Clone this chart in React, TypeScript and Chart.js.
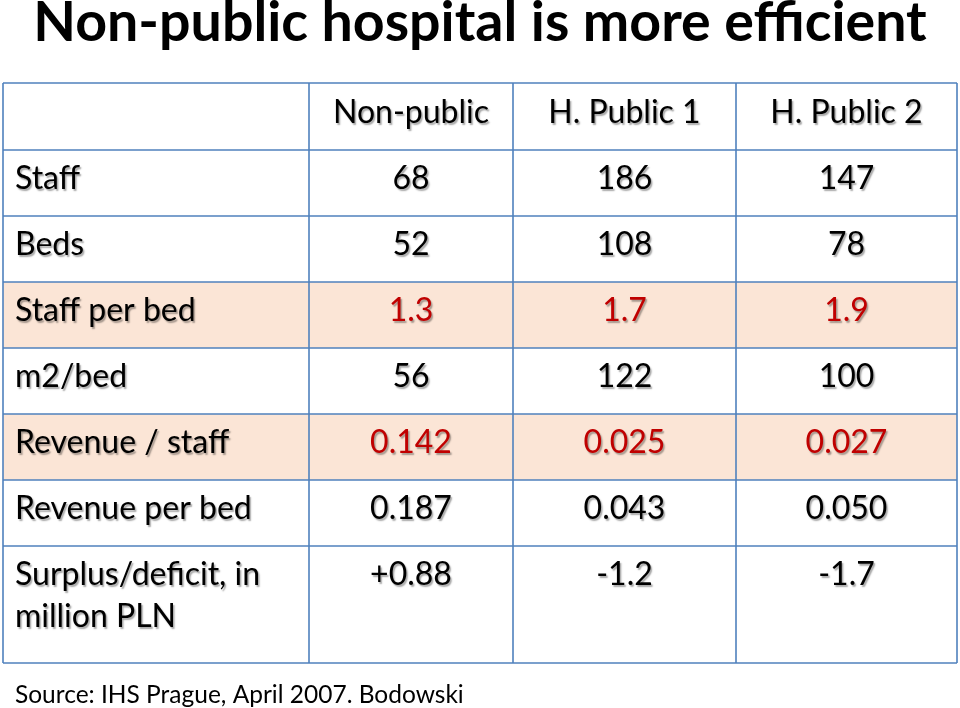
import React, { useEffect, useRef } from "react";
import { Chart, registerables } from "chart.js";

Chart.register(...registerables);

// ---- data ----
const TITLE = "Non-public hospital is more efficient";
const SOURCE = "Source: IHS Prague, April 2007. Bodowski";
const columnHeaders = ["Non-public", "H. Public 1", "H. Public 2"];
const rowLabels: string[][] = [
  ["Staff"],
  ["Beds"],
  ["Staff per bed"],
  ["m2/bed"],
  ["Revenue / staff"],
  ["Revenue per bed"],
  ["Surplus/deficit, in", "million PLN"],
];
const nonPublic = ["68", "52", "1.3", "56", "0.142", "0.187", "+0.88"];
const hPublic1 = ["186", "108", "1.7", "122", "0.025", "0.043", "-1.2"];
const hPublic2 = ["147", "78", "1.9", "100", "0.027", "0.050", "-1.7"];
const highlightedRows = ["Staff per bed", "Revenue / staff"];

// ---- layout (relative spans, mapped through the chart's scales) ----
const COL_SPANS = [306, 204, 223, 221];
const ROW_SPANS = [67, 66, 66, 66, 66, 66, 66, 117];

// ---- styles ----
const FONT = "Lato, 'Open Sans', sans-serif";
const BORDER = "#4F81BD";
const PEACH = "#FBE5D6";
const RED = "#C00000";
const CELL_FONT_SIZE = 32;

const cumulative = (arr: number[]) => {
  const out = [0];
  arr.forEach((v) => out.push(out[out.length - 1] + v));
  return out;
};

const tablePlugin = {
  id: "tableCells",
  afterDraw(chart: any) {
    const { ctx } = chart;
    const x = chart.scales.x;
    const y = chart.scales.y;
    const colEdges = cumulative(COL_SPANS).map((v) => x.getPixelForValue(v));
    const rowEdges = cumulative(ROW_SPANS).map((v) => y.getPixelForValue(v));
    const columns = [nonPublic, hPublic1, hPublic2];

    ctx.save();
    // highlighted row backgrounds
    rowLabels.forEach((lab, i) => {
      if (highlightedRows.includes(lab.join(" "))) {
        ctx.fillStyle = PEACH;
        ctx.fillRect(
          colEdges[0],
          rowEdges[i + 1],
          colEdges[colEdges.length - 1] - colEdges[0],
          rowEdges[i + 2] - rowEdges[i + 1]
        );
      }
    });

    // grid lines
    ctx.strokeStyle = BORDER;
    ctx.lineWidth = 1.6;
    rowEdges.forEach((ry) => {
      ctx.beginPath();
      ctx.moveTo(colEdges[0], ry);
      ctx.lineTo(colEdges[colEdges.length - 1], ry);
      ctx.stroke();
    });
    colEdges.forEach((cx) => {
      ctx.beginPath();
      ctx.moveTo(cx, rowEdges[0]);
      ctx.lineTo(cx, rowEdges[rowEdges.length - 1]);
      ctx.stroke();
    });

    // source note (below the table)
    ctx.font = `24.5px ${FONT}`;
    ctx.fillStyle = "#000";
    ctx.textAlign = "left";
    ctx.textBaseline = "alphabetic";
    ctx.fillText(SOURCE, colEdges[0] + 12, rowEdges[rowEdges.length - 1] + 40);

    // cell text
    ctx.font = `${CELL_FONT_SIZE}px ${FONT}`;
    ctx.shadowColor = "rgba(0,0,0,0.35)";
    ctx.shadowOffsetX = 1.5;
    ctx.shadowOffsetY = 1.5;
    ctx.shadowBlur = 1.5;
    const BASE = 39;
    const LINE = 42;

    // header row
    ctx.fillStyle = "#000";
    ctx.textAlign = "center";
    columnHeaders.forEach((h, c) => {
      const cx = (colEdges[c + 1] + colEdges[c + 2]) / 2;
      ctx.fillText(h, cx, rowEdges[0] + BASE + 1);
    });

    rowLabels.forEach((lab, r) => {
      const top = rowEdges[r + 1];
      const hl = highlightedRows.includes(lab.join(" "));
      ctx.textAlign = "left";
      ctx.fillStyle = "#000";
      lab.forEach((line, li) => {
        ctx.fillText(line, colEdges[0] + 12, top + BASE + li * LINE);
      });
      ctx.textAlign = "center";
      ctx.fillStyle = hl ? RED : "#000";
      columns.forEach((col, c) => {
        const cx = (colEdges[c + 1] + colEdges[c + 2]) / 2;
        ctx.fillText(col[r], cx, top + BASE);
      });
    });
    ctx.restore();
  },
};

export default function App() {
  const ref = useRef<HTMLCanvasElement | null>(null);
  useEffect(() => {
    document.body.style.margin = "0";
    if (!ref.current) return;
    const chart = new Chart(ref.current, {
      type: "scatter",
      data: { datasets: [{ data: [], pointRadius: 0 }] },
      options: {
        responsive: false,
        animation: false,
        events: [],
        layout: { padding: { left: 3, right: 3, top: 0, bottom: 45 } },
        scales: {
          x: { type: "linear", display: false, min: 0, max: COL_SPANS.reduce((a, b) => a + b, 0) },
          y: { type: "linear", display: false, reverse: true, min: 0, max: ROW_SPANS.reduce((a, b) => a + b, 0) },
        },
        plugins: {
          legend: { display: false },
          tooltip: { enabled: false },
          title: {
            display: true,
            text: TITLE,
            color: "#000",
            font: { family: FONT, size: 55.5, weight: "bold", lineHeight: 0.6 },
            padding: { top: 6, bottom: 43.7 },
          },
        },
      },
      plugins: [tablePlugin],
    });
    return () => chart.destroy();
  }, []);
  return <canvas ref={ref} width={960} height={708} style={{ display: "block" }} />;
}
